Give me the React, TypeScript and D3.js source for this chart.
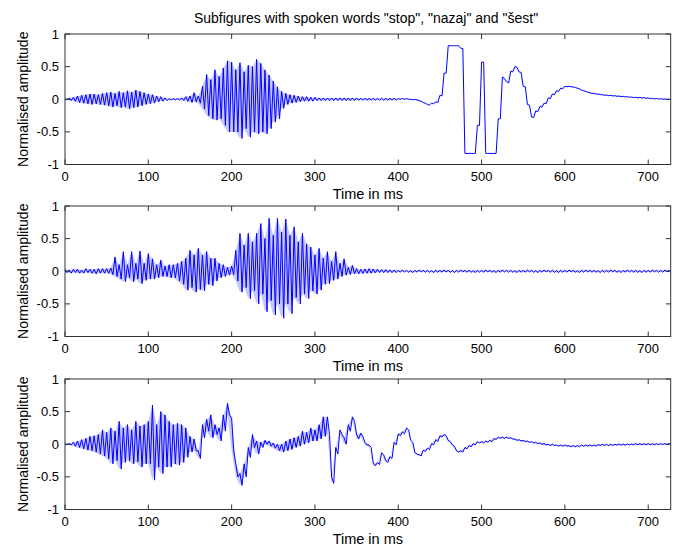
import React from 'react'
import * as d3 from 'd3'

const width = 687
const height = 546

const title = 'Subfigures with spoken words "stop", "nazaj" and "šest"'
const xLabel = 'Time in ms'
const yLabel = 'Normalised amplitude'
const xTicks = [0, 100, 200, 300, 400, 500, 600, 700]
const yTicks = [-1, -0.5, 0, 0.5, 1]
const timeMax = 727

// waveform envelope, one upper/lower pair every 5 ms
const sampleStep = 5
const sampleTimes = d3.range(0, 726, sampleStep)

const stopHi = [
    0.01, 0.02, 0.03, 0.05, 0.06, 0.07, 0.08, 0.08, 0.07, 0.09,
    0.1, 0.11, 0.09, 0.12, 0.1, 0.13, 0.11, 0.14, 0.12, 0.1,
    0.08, 0.07, 0.05, 0.04, 0.02, 0.01, 0.01, 0.01, 0.02, 0.04,
    0.05, 0.1, 0.05, 0.2, 0.38, 0.3, 0.45, 0.35, 0.48, 0.59,
    0.57, 0.45, 0.56, 0.42, 0.52, 0.5, 0.61, 0.55, 0.45, 0.37,
    0.28, 0.19, 0.12, 0.09, 0.07, 0.06, 0.05, 0.04, 0.04, 0.03,
    0.03, 0.02, 0.02, 0.02, 0.02, 0.02, 0.02, 0.02, 0.02, 0.02,
    0.02, 0.015, 0.015, 0.015, 0.015, 0.015, 0.015, 0.015, 0.015, 0.015,
    0.01, 0.01, 0.01, 0.0, 0.0, -0.02, -0.05, -0.08, -0.06, -0.04,
    0.06, 0.4, 0.82, 0.82, 0.82, 0.78, -0.83, -0.83, -0.83, -0.4,
    0.57, -0.83, -0.83, -0.83, -0.3, 0.34, 0.27, 0.43, 0.5, 0.42,
    0.2, -0.08, -0.27, -0.18, -0.11, -0.06, 0.02, 0.08, 0.13, 0.17,
    0.2, 0.2, 0.19, 0.17, 0.14, 0.12, 0.1, 0.09, 0.08, 0.07,
    0.065, 0.06, 0.055, 0.05, 0.045, 0.04, 0.035, 0.03, 0.028, 0.025,
    0.02, 0.015, 0.012, 0.01, 0.005, 0.0,
]
const stopLo = [
    -0.01, -0.02, -0.03, -0.05, -0.06, -0.07, -0.08, -0.07, -0.08, -0.09,
    -0.1, -0.12, -0.1, -0.13, -0.12, -0.15, -0.13, -0.12, -0.1, -0.08,
    -0.07, -0.06, -0.04, -0.03, -0.02, -0.01, -0.01, -0.01, -0.02, -0.03,
    -0.05, -0.04, -0.06, -0.15, -0.25, -0.3, -0.32, -0.3, -0.4, -0.5,
    -0.5, -0.5, -0.6, -0.45, -0.58, -0.5, -0.53, -0.5, -0.53, -0.45,
    -0.35, -0.3, -0.14, -0.08, -0.06, -0.05, -0.04, -0.03, -0.03, -0.03,
    -0.02, -0.02, -0.02, -0.02, -0.02, -0.02, -0.02, -0.02, -0.02, -0.02,
    -0.015, -0.015, -0.015, -0.015, -0.015, -0.015, -0.015, -0.015, -0.015, -0.015,
    0.0, 0.0, 0.0, -0.01, -0.01, -0.03, -0.06, -0.09, -0.07, -0.05,
    0.05, 0.4, 0.82, 0.82, 0.82, 0.78, -0.83, -0.83, -0.83, -0.4,
    0.57, -0.83, -0.83, -0.83, -0.3, 0.32, 0.25, 0.42, 0.49, 0.41,
    0.19, -0.09, -0.28, -0.19, -0.12, -0.07, 0.01, 0.07, 0.12, 0.16,
    0.19, 0.19, 0.18, 0.16, 0.13, 0.11, 0.09, 0.08, 0.07, 0.06,
    0.055, 0.05, 0.045, 0.04, 0.035, 0.03, 0.025, 0.02, 0.018, 0.015,
    0.01, 0.005, 0.002, 0.0, -0.005, -0.01,
]

const nazajHi = [
    0.03, 0.02, 0.03, 0.03, 0.02, 0.04, 0.03, 0.03, 0.04, 0.04,
    0.04, 0.05, 0.22, 0.1, 0.3, 0.1, 0.3, 0.12, 0.31, 0.12,
    0.27, 0.19, 0.1, 0.17, 0.08, 0.1, 0.1, 0.12, 0.15, 0.2,
    0.32, 0.25, 0.35, 0.25, 0.3, 0.2, 0.2, 0.12, 0.1, 0.06,
    0.08, 0.32, 0.58, 0.4, 0.58, 0.45, 0.58, 0.73, 0.5, 0.81,
    0.55, 0.81, 0.6, 0.8, 0.55, 0.68, 0.45, 0.58, 0.42, 0.37,
    0.25, 0.35, 0.2, 0.3, 0.15, 0.3, 0.12, 0.19, 0.06, 0.09,
    0.04, 0.03, 0.035, 0.04, 0.035, 0.03, 0.025, 0.025, 0.02, 0.02,
    0.015, 0.02, 0.015, 0.01, 0.015, 0.02, 0.015, 0.015, 0.01, 0.015,
    0.015, 0.02, 0.015, 0.01, 0.015, 0.02, 0.015, 0.015, 0.01, 0.015,
    0.015, 0.02, 0.015, 0.01, 0.015, 0.02, 0.015, 0.015, 0.01, 0.015,
    0.015, 0.02, 0.015, 0.01, 0.015, 0.02, 0.015, 0.015, 0.01, 0.015,
    0.015, 0.02, 0.015, 0.01, 0.015, 0.02, 0.015, 0.015, 0.01, 0.015,
    0.015, 0.02, 0.015, 0.01, 0.015, 0.02, 0.015, 0.015, 0.01, 0.015,
    0.015, 0.02, 0.015, 0.015, 0.02, 0.015,
]
const nazajLo = [
    -0.02, -0.03, -0.02, -0.03, -0.03, -0.02, -0.03, -0.04, -0.03, -0.03,
    -0.03, -0.05, -0.08, -0.12, -0.16, -0.1, -0.16, -0.12, -0.19, -0.14,
    -0.12, -0.12, -0.1, -0.08, -0.08, -0.1, -0.1, -0.15, -0.2, -0.29,
    -0.25, -0.32, -0.28, -0.3, -0.2, -0.22, -0.15, -0.1, -0.08, -0.06,
    -0.05, -0.15, -0.32, -0.25, -0.42, -0.3, -0.5, -0.35, -0.62, -0.45,
    -0.67, -0.5, -0.72, -0.5, -0.65, -0.4, -0.5, -0.35, -0.42, -0.3,
    -0.35, -0.29, -0.2, -0.19, -0.14, -0.12, -0.08, -0.06, -0.05, -0.04,
    -0.04, -0.035, -0.03, -0.03, -0.025, -0.02, -0.02, -0.02, -0.02, -0.02,
    -0.015, -0.01, -0.015, -0.02, -0.015, -0.01, -0.015, -0.015, -0.02, -0.015,
    -0.015, -0.01, -0.015, -0.02, -0.015, -0.01, -0.015, -0.015, -0.02, -0.015,
    -0.015, -0.01, -0.015, -0.02, -0.015, -0.01, -0.015, -0.015, -0.02, -0.015,
    -0.015, -0.01, -0.015, -0.02, -0.015, -0.01, -0.015, -0.015, -0.02, -0.015,
    -0.015, -0.01, -0.015, -0.02, -0.015, -0.01, -0.015, -0.015, -0.02, -0.015,
    -0.015, -0.01, -0.015, -0.02, -0.015, -0.01, -0.015, -0.015, -0.02, -0.015,
    -0.015, -0.01, -0.015, -0.015, -0.01, -0.015,
]

const sestHi = [
    0.01, 0.01, 0.03, 0.05, 0.07, 0.09, 0.12, 0.13, 0.15, 0.22,
    0.18, 0.25, 0.2, 0.35, 0.25, 0.3, 0.22, 0.35, 0.28, 0.3,
    0.35, 0.6, 0.3, 0.5, 0.45, 0.35, 0.3, 0.32, 0.3, 0.25,
    0.12, 0.08, -0.1, 0.3, 0.38, 0.45, 0.3, 0.25, 0.45, 0.63,
    0.4, -0.3, -0.45, -0.3, -0.05, 0.15, 0.05, 0.03, 0.06, 0.05,
    0.02, 0.0, 0.0, 0.05, 0.08, 0.1, 0.12, 0.2, 0.18, 0.25,
    0.22, 0.3, 0.42, 0.42, -0.5, -0.05, 0.22, 0.1, 0.3, 0.42,
    0.15, 0.17, 0.03, -0.01, -0.29, -0.28, -0.13, -0.25, -0.19, 0.03,
    0.16, 0.19, 0.25, 0.06, -0.13, -0.16, -0.09, -0.06, 0.01, 0.07,
    0.13, 0.15, 0.06, -0.01, -0.1, -0.1, -0.05, -0.02, 0.01, 0.04,
    0.04, 0.05, 0.06, 0.09, 0.11, 0.11, 0.11, 0.1, 0.08, 0.07,
    0.06, 0.05, 0.04, 0.03, 0.02, 0.01, 0.0, 0.0, -0.01, -0.01,
    -0.01, -0.02, -0.02, -0.02, -0.01, -0.01, -0.01, -0.01, -0.005, 0.0,
    0.0, 0.0, 0.0, 0.005, 0.005, 0.005, 0.005, 0.01, 0.01, 0.01,
    0.01, 0.01, 0.01, 0.01, 0.01, 0.01,
]
const sestLo = [
    -0.01, -0.01, -0.03, -0.05, -0.07, -0.09, -0.1, -0.12, -0.15, -0.18,
    -0.22, -0.3, -0.25, -0.38, -0.28, -0.25, -0.3, -0.27, -0.35, -0.3,
    -0.3, -0.55, -0.35, -0.45, -0.35, -0.35, -0.3, -0.32, -0.28, -0.2,
    -0.12, -0.1, -0.22, 0.1, 0.2, 0.1, 0.15, 0.05, 0.2, 0.45,
    -0.1, -0.5, -0.63, -0.5, -0.2, -0.05, -0.15, -0.05, 0.0, -0.03,
    -0.06, -0.1, -0.12, -0.1, -0.08, -0.05, -0.03, 0.0, 0.02, 0.05,
    0.05, 0.08, 0.12, 0.15, -0.6, -0.15, 0.15, 0.0, 0.2, 0.35,
    0.08, 0.12, -0.01, -0.05, -0.33, -0.31, -0.16, -0.28, -0.22, -0.01,
    0.13, 0.16, 0.22, 0.03, -0.15, -0.18, -0.11, -0.08, -0.01, 0.04,
    0.11, 0.13, 0.04, -0.03, -0.12, -0.12, -0.07, -0.04, -0.01, 0.02,
    0.02, 0.03, 0.04, 0.07, 0.09, 0.09, 0.09, 0.08, 0.06, 0.05,
    0.04, 0.03, 0.02, 0.01, 0.0, -0.01, -0.02, -0.02, -0.03, -0.03,
    -0.03, -0.04, -0.04, -0.04, -0.03, -0.03, -0.03, -0.03, -0.02, -0.02,
    -0.02, -0.02, -0.015, -0.015, -0.015, -0.01, -0.01, -0.01, -0.01, -0.01,
    -0.01, -0.01, -0.01, -0.005, -0.005, -0.005,
]

const panels = [
    { name: 'stop', hi: stopHi, lo: stopLo, top: 34 },
    { name: 'nazaj', hi: nazajHi, lo: nazajLo, top: 206 },
    { name: 'sest', hi: sestHi, lo: sestLo, top: 379 },
]

const left = 65
const right = 670.7
const panelHeight = 130.5
const tickLen = 5
const axisColor = '#333'
const font = "Arial, 'Liberation Sans', sans-serif"

const x = d3.scaleLinear().domain([0, timeMax]).range([left, right])

function Panel({ name, hi, lo, top }) {
    const bottom = top + panelHeight
    const y = d3.scaleLinear().domain([-1, 1]).range([bottom, top])

    // alternate upper and lower envelope half a step apart
    const pts = []
    sampleTimes.forEach((t, i) => {
        pts.push([t, hi[i]])
        pts.push([t + sampleStep / 2, lo[i]])
    })
    const line = d3
        .line()
        .x((d) => x(d[0]))
        .y((d) => y(d[1]))

    // faint band between the envelopes for the dense noisy parts
    const band = d3
        .area()
        .x((d, i) => x(sampleTimes[i]))
        .y0((d, i) => y(lo[i]))
        .y1((d, i) => y(hi[i]))

    const clipId = `clip-${name}`
    return (
        <g>
            <clipPath id={clipId}>
                <rect x={left} y={top} width={right - left} height={panelHeight} />
            </clipPath>
            <g clipPath={`url(#${clipId})`}>
                <path d={band(sampleTimes)} fill="#0000ff" fillOpacity={0.22} stroke="none" />
                <path d={line(pts)} fill="none" stroke="#0000ff" strokeWidth={1} />
            </g>
            <rect
                x={left}
                y={top}
                width={right - left}
                height={panelHeight}
                fill="none"
                stroke={axisColor}
                strokeWidth={1}
            />
            {xTicks.map((t) => (
                <g key={t}>
                    <line x1={x(t)} x2={x(t)} y1={bottom} y2={bottom - tickLen} stroke={axisColor} />
                    <line x1={x(t)} x2={x(t)} y1={top} y2={top + tickLen} stroke={axisColor} />
                    <text x={x(t)} y={bottom + 16} textAnchor="middle" fontSize={13} fontFamily={font}>
                        {t}
                    </text>
                </g>
            ))}
            {yTicks.map((v) => (
                <g key={v}>
                    <line x1={left} x2={left + tickLen} y1={y(v)} y2={y(v)} stroke={axisColor} />
                    <line x1={right} x2={right - tickLen} y1={y(v)} y2={y(v)} stroke={axisColor} />
                    <text
                        x={left - 6}
                        y={y(v)}
                        dy="0.35em"
                        textAnchor="end"
                        fontSize={13}
                        fontFamily={font}
                    >
                        {v}
                    </text>
                </g>
            ))}
            <text
                x={(left + right) / 2}
                y={bottom + 34.5}
                textAnchor="middle"
                fontSize={14.5}
                fontFamily={font}
            >
                {xLabel}
            </text>
            <text
                transform={`translate(28, ${(top + bottom) / 2}) rotate(-90)`}
                textAnchor="middle"
                fontSize={14}
                fontFamily={font}
            >
                {yLabel}
            </text>
        </g>
    )
}

export default function App() {
    return (
        <svg
            width={width}
            height={height}
            style={{ position: 'absolute', left: 0, top: 0, background: '#fff' }}
        >
            <rect width={width} height={height} fill="#fff" />
            <text x={366} y={23} textAnchor="middle" fontSize={14} fontFamily={font}>
                {title}
            </text>
            {panels.map((p) => (
                <Panel key={p.name} {...p} />
            ))}
        </svg>
    )
}
